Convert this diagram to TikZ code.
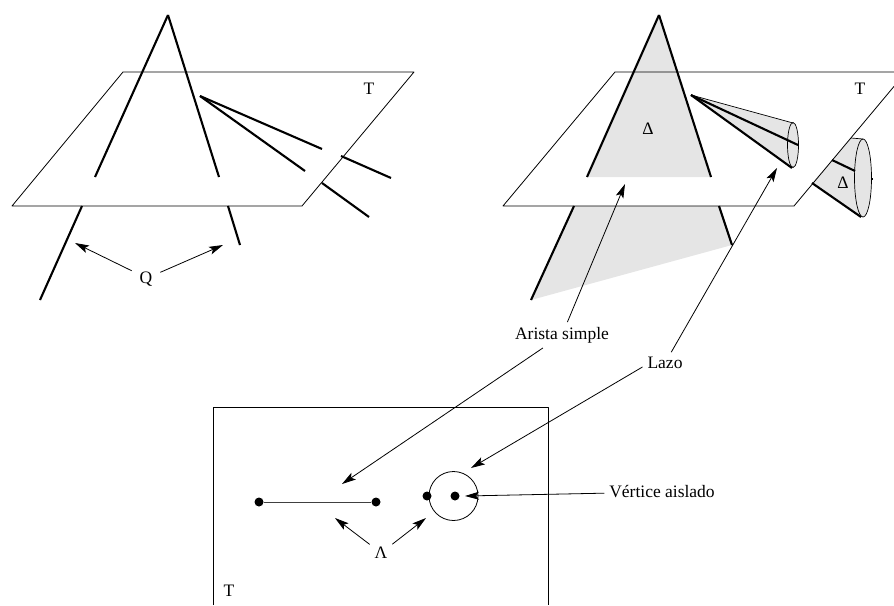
\documentclass[tikz,border=0pt]{standalone}
\usepackage{fontspec}
\setmainfont{Liberation Serif}
\usetikzlibrary{arrows.meta}

\begin{document}
\begin{tikzpicture}[x=1pt,y=-1pt,line join=round,
plano/.style={draw=black,line width=0.8pt},
arista/.style={line width=2.1pt},
flecha/.style={line width=0.8pt,-{Stealth[length=14pt,width=8pt,inset=3pt]}},
etq/.style={font=\fontsize{17.5}{20}\selectfont,inner sep=1pt,outer sep=4pt},
vert/.style={circle,fill=black,minimum size=9pt,inner sep=0pt}]
\useasboundingbox (0,0) rectangle (894,605);
% left sheet
\foreach \n/\x/\y in %
{a0/123/72,a1/414/72,a2/302/206,a3/12/206,%
 b0/168/15,b1/95/177,b2/219/177,b3/82/206,b4/40/300,b5/228/206,b6/240/245,%
 c0/200/96,c1/322/149,c2/305/171,c3/341/156,c4/391/178,c5/322/183,c6/369/217,%
 f0/75/243,f1/223/245} {
   \coordinate (\n) at (\x,\y);
}
\draw[plano] (a0) -- (a1) -- (a2) -- (a3) -- cycle;
\foreach \s/\t in {b0/b1,b0/b2,b3/b4,b5/b6,c0/c1,c0/c2,c3/c4,c5/c6} {
   \draw[arista] (\s) -- (\t);
}
\node[etq](t0) at (369,89) {T};
\node[etq,outer sep=7pt](q0) at (146,279) {Q};
\draw[flecha] (q0.150) -- (f0);
\draw[flecha] (q0.25) -- (f1);
% right sheet
\foreach \n/\x/\y in %
{g0/894/72,g1/615/72,g2/503/206,g3/794/206,g4/894/86.4,%
 h0/659/15,h1/587/177,h2/711/177,h3/574/206,h4/531/300,h5/719/206,h6/732/245,%
 k0/691/95,k1/793/123,k2/792/168,k3/798/145,%
 m0/851/138,m1/812/183,m2/861/217,m3/832/160,m4/855/171,m5/871/179,m6/873/179,%
 f2/625/184,f3/777/168} {
   \coordinate (\n) at (\x,\y);
}
\fill[black!10] (h0) -- (h1) -- (h2) -- cycle;
\fill[black!10] (h3) -- (h5) -- (h6) -- (h4) -- cycle;
\fill[black!10] (k0) -- (k1) -- (k2) -- cycle;
\fill[black!10] (m0) -- (m1) -- (m2) -- (863,139) -- cycle;
\draw[plano] (g0) -- (g1) -- (g2) -- (g3) -- (g4);
\filldraw[fill=black!10,line width=0.7pt] (793,145) ellipse (5.5 and 22.5);
\filldraw[fill=black!10,line width=0.7pt] (863,178) ellipse (8.5 and 39);
\draw[line width=0.7pt] (k0) -- (k1);
\draw[line width=0.7pt] (m0) -- (863,139);
\foreach \s/\t in {h0/h1,h0/h2,h3/h4,h5/h6,k0/k2,k0/k3,m1/m2,m3/m4,m5/m6} {
   \draw[arista] (\s) -- (\t);
}
\node[etq](t1) at (860,89) {T};
\node[etq](n0) at (648,129) {Δ};
\node[etq](n1) at (843,183) {Δ};
% bottom sheet
\draw[plano] (213,605) -- (213,407) -- (548,407) -- (548,605);
\node[etq](t2) at (229,591) {T};
\node[vert](d0) at (259,502) {};
\node[vert](d1) at (376,502) {};
\node[vert](d2) at (427,496) {};
\node[vert](d3) at (455,496) {};
\draw[line width=1pt,black!75] (d0) -- (d1);
\draw[line width=0.8pt] (453.5,496) circle (24.5);
\foreach \n/\x/\y in {f4/342/484,f5/471/468,f6/465/496,f7/335/518,f8/426/518} {
   \coordinate (\n) at (\x,\y);
}
\node[etq](l0) at (381,553) {Λ};
\node[etq](s0) at (562,335) {Arista simple};
\node[etq](z0) at (665,363) {Lazo};
\node[etq](v0) at (662,492) {Vértice aislado};
\draw[flecha] (s0) -- (f2);
\draw[flecha] (s0) -- (f4);
\draw[flecha] (z0.60) -- (f3);
\draw[flecha] (z0.190) -- (f5);
\draw[flecha] (v0) -- (f6);
\draw[flecha] (l0) -- (f7);
\draw[flecha] (l0) -- (f8);
\end{tikzpicture}
\end{document}
